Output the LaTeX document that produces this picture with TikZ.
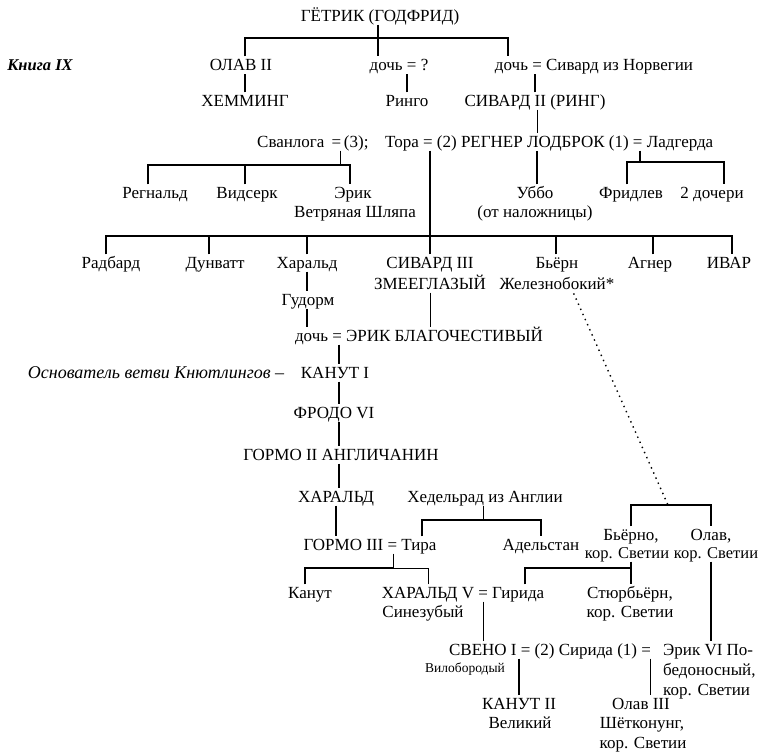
\documentclass[tikz,border=0pt]{standalone}
\usepackage{fontspec}
\setmainfont{Liberation Serif}
\begin{document}
\begin{tikzpicture}[x=1pt,y=-1pt,
  t/.style={inner sep=0pt,text height=11pt,text depth=0pt,font=\fontsize{17}{19}\selectfont},
  tl/.style={t,anchor=west},
  ln/.style={line width=1.8pt},
  lt/.style={line width=0.9pt},
  gap/.style={shorten <=3pt,shorten >=3pt},
  gs/.style={shorten <=3pt}]
\useasboundingbox (0,0) rectangle (760,754);
\fill[white] (0,0) rectangle (760,754);

\node[t] (getrik) at (380,16) {ГЁТРИК (ГОДФРИД)};
\node[t,font=\fontsize{16.5}{19}\selectfont\bfseries\itshape] (kniga) at (40,65) {Книга IX};
\node[t] (olav2) at (241,65) {ОЛАВ II};
\node[t] (doch1) at (399,65) {дочь = ?};
\node[t] (doch2) at (594,65) {дочь = Сивард из Норвегии};
\node[t] (hem) at (245,101) {ХЕММИНГ};
\node[t] (ringo) at (407,101) {Ринго};
\node[t] (siv2) at (535,101) {СИВАРД II (РИНГ)};
\node[tl] (svan) at (257,142) {Сванлога \,=\,(3);};
\node[tl] (tora) at (385,142) {Тора = (2) РЕГНЕР ЛОДБРОК (1) = Ладгерда};
\node[t] (regn) at (155,193) {Регнальд};
\node[t] (vids) at (247,193) {Видсерк};
\node[t] (erik) at (353,193) {Эрик};
\node[t] (erikb) at (355,212) {Ветряная Шляпа};
\node[t] (ubbo) at (535,193) {Уббо};
\node[t] (ubbob) at (535,212) {(от наложницы)};
\node[t] (frid) at (631,193) {Фридлев};
\node[t] (doch3) at (712,193) {2 дочери};
\node[t] (radb) at (111,263) {Радбард};
\node[t] (dunv) at (215,263) {Дунватт};
\node[t] (harl) at (307,263) {Харальд};
\node[t] (siv3) at (430,263) {СИВАРД III};
\node[t] (siv3b) at (430,284) {ЗМЕЕГЛАЗЫЙ};
\node[t] (bjorn) at (557,263) {Бьёрн};
\node[t] (bjornb) at (557,284) {Железнобокий*};
\node[t] (agner) at (650,263) {Агнер};
\node[t] (ivar) at (729,263) {ИВАР};
\node[t] (gud) at (308,300) {Гудорм};
\node[t] (erik2) at (419,336) {дочь = ЭРИК БЛАГОЧЕСТИВЫЙ};
\node[t,font=\fontsize{18}{19}\selectfont\itshape] (osn) at (156,373) {Основатель ветви Кнютлингов –};
\node[t] (kan1) at (335,373) {КАНУТ I};
\node[t] (frodo) at (334,413) {ФРОДО VI};
\node[t] (gorm2) at (341,455) {ГОРМО II АНГЛИЧАНИН};
\node[t] (har) at (336,497) {ХАРАЛЬД};
\node[t] (hed) at (485,497) {Хедельрад из Англии};
\node[t] (gorm3) at (370,545) {ГОРМО III = Тира};
\node[t] (adel) at (541,545) {Адельстан};
\node[t] (bjo) at (631,535) {Бьёрно,};
\node[t,font=\fontsize{16.5}{19}\selectfont] (bjob) at (627,553) {кор. Светии};
\node[t] (olv) at (711,535) {Олав,};
\node[t,font=\fontsize{16.5}{19}\selectfont] (olvb) at (716,553) {кор. Светии};
\node[t] (kanut) at (310,593) {Канут};
\node[t] (har5) at (463,593) {ХАРАЛЬД V = Гирида};
\node[t] (har5b) at (423,612) {Синезубый};
\node[t] (styr) at (630,593) {Стюрбьёрн,};
\node[t] (styrb) at (630,612) {кор. Светии};
\node[t] (sveno) at (550,650) {СВЕНО I = (2) Сирида (1) =};
\node[t,font=\fontsize{13.5}{15}\selectfont] (vilo) at (465,667) {Вилобородый};
\node[tl] (er6) at (663,650) {Эрик VI По-};
\node[tl] (er6b) at (663,670) {бедоносный,};
\node[tl] (er6c) at (663,690) {кор. Светии};
\node[t] (kan2) at (519,704) {КАНУТ II};
\node[t] (kan2b) at (520,723) {Великий};
\node[t] (ol3) at (641,704) {Олав III};
\node[t] (ol3b) at (642,723) {Шётконунг,};
\node[t] (ol3c) at (643,743) {кор. Светии};

\coordinate (b1) at (380,38);
\coordinate (sv) at (340,165);
\coordinate (ld) at (640,162);
\coordinate (big) at (430,236);
\coordinate (chain) at (339,0);
\coordinate (hb) at (483,520);
\coordinate (gb) at (393,568);
\coordinate (gir) at (525,568);
\coordinate (bb) at (668,505);

\draw[ln,gap] ([xshift=-2pt]getrik.south) -- ([xshift=-2pt]getrik.south |- doch1.north);
\draw[ln,gap] ([xshift=4pt]olav2.north) |- (b1) -| ([xshift=-86pt]doch2.north);
\draw[ln,gap] (hem.north) -- (hem.north |- olav2.south);
\draw[ln,gap] (ringo.north) -- (ringo.north |- doch1.south);
\draw[ln,gap] (siv2.north) -- (siv2.north |- doch2.south);
\draw[lt,gap] ([xshift=2pt]siv2.south) -- ([xshift=2pt]siv2.south |- tora.north);

\draw[lt,gs] (sv |- svan.south) -- (sv);
\draw[ln,gap] ([xshift=-7pt]regn.north) |- (sv) -| ([xshift=-3pt]erik.north);
\draw[ln,gs] ([xshift=-2pt]vids.north) -- ([xshift=-2pt]vids.north |- sv);

\draw[ln,gs] (big |- tora.south) -- (big);
\draw[ln,gap] ([xshift=2pt]ubbo.north) -- ([xshift=2pt]ubbo.north |- tora.south);
\draw[ln,gs] (ld |- tora.south) -- (ld);
\draw[ln,gap] ([xshift=-4pt]frid.north) |- (ld) -| ([xshift=12pt]doch3.north);

\draw[ln,gap] ([xshift=-5pt]radb.north) |- (big) -| ([xshift=3pt]ivar.north);
\foreach \n/\s in {dunv/-6pt,harl/0pt,siv3/0pt,bjorn/-1pt,agner/3pt}
  \draw[ln,gs] ([xshift=\s]\n.north) -- ([xshift=\s]\n.north |- big);

\draw[ln,gap] (harl.south) -- (harl.south |- gud.north);
\draw[ln,gap] (harl.south |- gud.south) -- (harl.south |- erik2.north);
\draw[lt,gap] (siv3b.south) -- (siv3b.south |- erik2.north);

\draw[ln,gap] (erik2.south -| chain) -- (kan1.north -| chain);
\draw[ln,gap] (kan1.south -| chain) -- (frodo.north -| chain);
\draw[ln,gap] (frodo.south -| chain) -- (gorm2.north -| chain);
\draw[ln,gap] (gorm2.south -| chain) -- (har.north -| chain);
\draw[ln,gap] (har.south) -- (har.south |- gorm3.north);

\draw[lt,gs] (hb |- hed.south) -- (hb);
\draw[ln,gap] ([xshift=52pt]gorm3.north) |- (hb) -| (adel.north);

\draw[lt,gs] (gb |- gorm3.south) -- (gb);
\draw[ln,gs] ([xshift=-5pt]kanut.north) |- (gb);
\draw[lt,gs] ([xshift=-35pt]har5.north) |- (gb);

\draw[ln,gs] ([xshift=62pt]har5.north) |- (gir) -- (gir -| bjo);
\draw[ln,gap] (bjob.south -| bjo) -- (styr.north -| bjo);
\draw[ln,gap] (bjo.north) |- (bb) -| (olv.north);
\draw[line width=1.4pt,dash pattern=on 1.4pt off 4.2pt,shorten <=4pt] ([xshift=15pt]bjornb.south) -- (bb);
\draw[ln,gap] (olvb.south -| olv) -- (olv |- er6.north);

\draw[lt,gap] ([xshift=20pt]har5.south) -- ([xshift=20pt]har5.south |- sveno.north);
\draw[ln,gap] (kan2.north |- sveno.south) -- (kan2.north);
\draw[lt,gap] ([xshift=9pt]ol3.north |- sveno.south) -- ([xshift=9pt]ol3.north);
\end{tikzpicture}
\end{document}
